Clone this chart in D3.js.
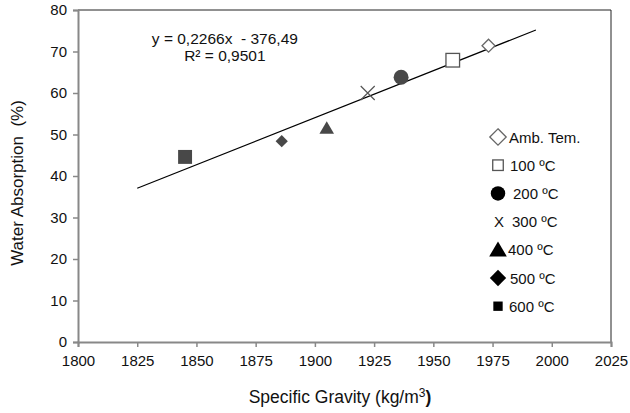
<!DOCTYPE html>
<html>
<head>
<meta charset="utf-8">
<script src="https://cdn.jsdelivr.net/npm/d3@7"></script>
<style>
  body { margin: 0; background: #fff; }
  text { font-family: "Liberation Sans", Arial, sans-serif; fill: #111; white-space: pre; }
</style>
</head>
<body>
<svg id="chart" width="630" height="413"></svg>
<script>
// series, one point each
var series = ["Amb. Tem.", "100 \u00baC", "200 \u00baC", "300 \u00baC", "400 \u00baC", "500 \u00baC", "600 \u00baC"];
var gravity = [1973.3, 1958.2, 1936.4, 1922.3, 1905, 1886, 1845.2];
var absorption = [71.4, 67.9, 63.8, 60, 51.5, 48.4, 44.6];
var symbols = ["diamondOpen", "squareOpen", "circle", "cross", "triangle", "diamond", "square"];

var xTicks = [1800, 1825, 1850, 1875, 1900, 1925, 1950, 1975, 2000, 2025];
var yTicks = [0, 10, 20, 30, 40, 50, 60, 70, 80];

// linear trend
var slope = 0.2266, intercept = -376.49;
var trendRange = [1825, 1993.3];

var svg = d3.select("#chart");
var margin = {left: 78, right: 19, top: 10, bottom: 71};
var width = 630 - margin.left - margin.right,
    height = 413 - margin.top - margin.bottom;

var x = d3.scaleLinear().domain([1800, 2025]).range([0, width]);
var y = d3.scaleLinear().domain([0, 80]).range([height, 0]);

var g = svg.append("g").attr("transform", "translate(" + margin.left + "," + margin.top + ")");

// frame (top + right thin black)
g.append("path")
  .attr("d", "M0,0H" + width + "V" + height)
  .attr("fill", "none").attr("stroke", "#222").attr("stroke-width", 1);

var xAxis = g.append("g").attr("transform", "translate(0," + height + ")")
  .call(d3.axisBottom(x).tickValues(xTicks).tickSize(5).tickPadding(8).tickFormat(d3.format("d")));
var yAxis = g.append("g")
  .call(d3.axisLeft(y).tickValues(yTicks).tickSize(5).tickPadding(6));

[xAxis, yAxis].forEach(function(a){
  a.select(".domain").attr("stroke", "#888").attr("stroke-width", 2);
  a.selectAll(".tick line").attr("stroke", "#888").attr("stroke-width", 1.5);
  a.selectAll(".tick text").style("font-size", "15px").attr("fill", "#111")
    .style("font-family", "'Liberation Sans', Arial, sans-serif");
});

// trendline
g.append("line")
  .attr("x1", x(trendRange[0])).attr("y1", y(slope * trendRange[0] + intercept))
  .attr("x2", x(trendRange[1])).attr("y2", y(slope * trendRange[1] + intercept))
  .attr("stroke", "#000").attr("stroke-width", 1.2);

// marker drawer
function marker(sel, kind, size, fill) {
  var s = size;
  switch (kind) {
    case "diamondOpen":
      sel.append("path").attr("d", "M0," + (-s) + "L" + s + ",0L0," + s + "L" + (-s) + ",0Z")
        .attr("fill", "#fff").attr("stroke", "#666").attr("stroke-width", 1.3); break;
    case "squareOpen":
      sel.append("rect").attr("x", -s * 0.85).attr("y", -s * 0.85).attr("width", s * 1.7).attr("height", s * 1.7)
        .attr("fill", "#fff").attr("stroke", "#555").attr("stroke-width", 1.3); break;
    case "circle":
      sel.append("circle").attr("r", s * 0.85).attr("fill", fill); break;
    case "cross":
      sel.append("path").attr("d", "M" + (-s) + "," + (-s) + "L" + s + "," + s + "M" + s + "," + (-s) + "L" + (-s) + "," + s)
        .attr("stroke", "#555").attr("stroke-width", 1.2); break;
    case "triangle":
      sel.append("path").attr("d", "M0," + (-s * 0.95) + "L" + s + "," + (s * 0.75) + "L" + (-s) + "," + (s * 0.75) + "Z")
        .attr("fill", fill); break;
    case "diamond":
      sel.append("path").attr("d", "M0," + (-s * 0.85) + "L" + s * 0.85 + ",0L0," + s * 0.85 + "L" + (-s * 0.85) + ",0Z")
        .attr("fill", fill); break;
    case "square":
      sel.append("rect").attr("x", -s * 0.85).attr("y", -s * 0.85).attr("width", s * 1.7).attr("height", s * 1.7)
        .attr("fill", fill); break;
  }
}

var pts = g.selectAll(".pt").data(series).enter().append("g")
  .attr("class", "pt")
  .attr("transform", function(d, i){ return "translate(" + x(gravity[i]) + "," + y(absorption[i]) + ")"; });
pts.each(function(d, i){
  var sz = {diamondOpen: 6.5, squareOpen: 8, circle: 8.8, cross: 7, triangle: 7.3, diamond: 7.2, square: 8.2}[symbols[i]];
  marker(d3.select(this), symbols[i], sz, "#484848");
});

// equation
g.append("text").attr("x", x(1862)).attr("y", y(71.8))
  .attr("text-anchor", "middle").style("font-size", "15.5px").text("y = 0,2266x  - 376,49");
g.append("text").attr("x", x(1862)).attr("y", y(67.7))
  .attr("text-anchor", "middle").style("font-size", "15.5px").text("R\u00b2 = 0,9501");

// legend
var legend = g.append("g").attr("transform", "translate(" + (498 - margin.left) + "," + (137 - margin.top) + ")");
var li = legend.selectAll(".li").data(series).enter().append("g")
  .attr("transform", function(d, i){ return "translate(0," + (i * 28.2) + ")"; });
li.each(function(d, i){
  var k = symbols[i], gg = d3.select(this);
  if (k === "cross") {
    gg.append("text").attr("x", 1).attr("y", 5.5).attr("text-anchor", "middle")
      .style("font-size", "15px").text("X");
  } else {
    var sz = {diamondOpen: 8.2, squareOpen: 6.2, circle: 8.5, triangle: 8.8, diamond: 9.6, square: 5.5}[k];
    marker(gg, k, sz, "#000");
  }
});
li.append("text")
  .attr("x", function(d, i){ return [11, 12, 15, 14, 10, 12, 11][i]; })
  .attr("y", 5.5).style("font-size", "15px").text(function(d){ return d; });

// axis titles
svg.append("text").attr("x", 340).attr("y", 403).attr("text-anchor", "middle")
  .style("font-size", "17.5px")
  .html("Specific Gravity (kg/m<tspan dy='-6' style='font-size:12px'>3</tspan><tspan dy='6' font-weight='bold'>)</tspan>");
svg.append("text").attr("transform", "translate(23,183) rotate(-90)")
  .attr("text-anchor", "middle").style("font-size", "17px").text("Water Absorption  (%)");
</script>
</body>
</html>
